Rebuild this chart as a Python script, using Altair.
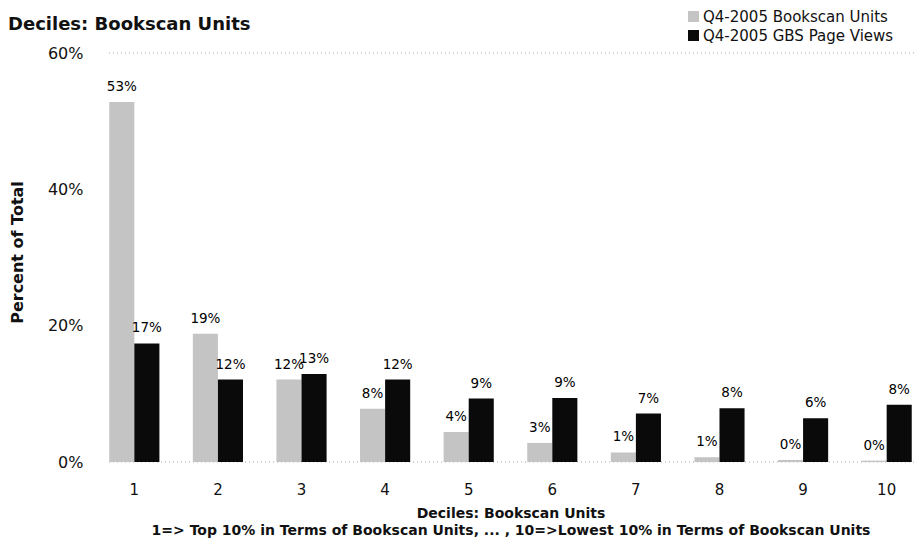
import altair as alt
import pandas as pd

deciles = [str(i) for i in range(1, 11)]
series = ["Q4-2005 Bookscan Units", "Q4-2005 GBS Page Views"]
bookscan_units = [0.528, 0.188, 0.121, 0.078, 0.044, 0.028, 0.014, 0.007, 0.003, 0.002]
gbs_page_views = [0.174, 0.121, 0.129, 0.121, 0.093, 0.094, 0.071, 0.079, 0.064, 0.084]
grid_values = [0.0, 0.6]
y_ticks = [0.0, 0.2, 0.4, 0.6]
colors = ["#c4c4c4", "#0a0a0a"]

rows = []
for d, a, b in zip(deciles, bookscan_units, gbs_page_views):
    rows.append({"decile": d, "series": series[0], "value": a})
    rows.append({"decile": d, "series": series[1], "value": b})
df = pd.DataFrame(rows)
grid_df = pd.DataFrame({"value": grid_values})

FONT = "DejaVu Sans"

x_enc = alt.X(
    "decile:N",
    sort=deciles,
    scale=alt.Scale(paddingInner=0.4, paddingOuter=0.027),
    axis=alt.Axis(
        title=["Deciles: Bookscan Units",
               "1=> Top 10% in Terms of Bookscan Units, ...   , 10=>Lowest 10% in Terms of Bookscan Units"],
        labelAngle=0, ticks=False, domain=False, labelPadding=20,
        labelFontSize=15, labelColor="#111", titleFontSize=14, titleFontWeight="bold",
        titleColor="#111", titlePadding=9, titleLineHeight=17,
    ),
)
y_enc = alt.Y(
    "value:Q",
    scale=alt.Scale(domain=[0, 0.6]),
    axis=alt.Axis(
        values=y_ticks, format=".0%", ticks=False, domain=False, grid=False,
        labelPadding=24, labelFontSize=16, labelColor="#111",
        title="Percent of Total", titleFontSize=16, titleFontWeight="bold",
        titleColor="#111", titleX=-82, titleY=199,
    ),
)
xoff = alt.XOffset("series:N", sort=series, scale=alt.Scale(paddingInner=0, paddingOuter=0))

rules = alt.Chart(grid_df).mark_rule(color="#aaa", strokeDash=[1, 3], strokeWidth=1).encode(y=y_enc)

bars = alt.Chart(df).mark_bar().encode(
    x=x_enc,
    xOffset=xoff,
    y=y_enc,
    color=alt.Color(
        "series:N", sort=series,
        scale=alt.Scale(domain=series, range=colors),
        legend=alt.Legend(
            title=None, orient="none", legendX=579, legendY=-44, symbolType="square",
            symbolSize=121, symbolStrokeWidth=0, labelFontSize=15, labelColor="#111",
            rowPadding=3, padding=0, labelOffset=2, labelLimit=400,
        ),
    ),
)

labels = alt.Chart(df).mark_text(dy=-15, fontSize=13.5, color="#000").encode(
    x=x_enc,
    xOffset=xoff,
    y=y_enc,
    text=alt.Text("value:Q", format=".0%"),
)

chart = alt.layer(rules, bars, labels).properties(
    width=807,
    height=409,
    autosize=alt.AutoSizeParams(type="none"),
    padding={"left": 99, "top": 45, "right": 0, "bottom": 80},
    title=alt.Title("Deciles: Bookscan Units", anchor="start", fontSize=18,
                    fontWeight="bold", color="#111", dx=-1, offset=24, dy=49),
).configure(font=FONT).configure_view(stroke=None)

chart.save("out.html", embed_options={"renderer": "svg", "actions": False})
